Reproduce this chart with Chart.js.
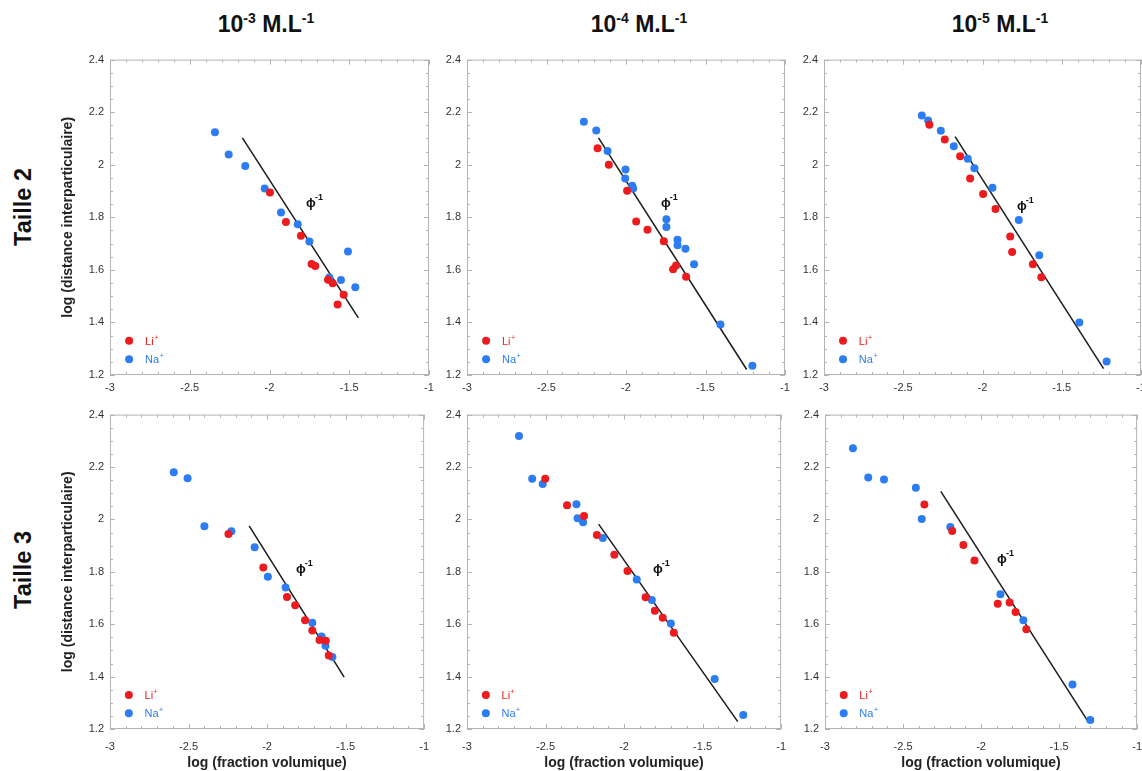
<!DOCTYPE html>
<html>
<head>
<meta charset="utf-8">
<script src="https://cdn.jsdelivr.net/npm/chart.js@4.4.0/dist/chart.umd.min.js"></script>
<style>
html, body { margin: 0; padding: 0; background: #fff; overflow: hidden; width: 1142px; height: 771px; }
body { position: relative; font-family: "Liberation Sans", Arial, sans-serif; }
.panel { position: absolute; }
.coltitle { position: absolute; top: 11px; font-weight: bold; font-size: 23px; line-height: 1; color: #111; transform: translateX(-50%); white-space: nowrap; }
.coltitle sup { font-size: 14px; vertical-align: 9px; }
.rowtitle { position: absolute; font-weight: bold; font-size: 23.5px; line-height: 1; color: #111; transform: translate(-50%, -50%) rotate(-90deg); white-space: nowrap; }
</style>
</head>
<body>
<div class="coltitle" style="left:266px">10<sup>-3</sup> M.L<sup>-1</sup></div>
<div class="coltitle" style="left:639px">10<sup>-4</sup> M.L<sup>-1</sup></div>
<div class="coltitle" style="left:1000px">10<sup>-5</sup> M.L<sup>-1</sup></div>
<div class="rowtitle" style="left:24px; top:207px">Taille 2</div>
<div class="rowtitle" style="left:24px; top:570px">Taille 3</div>

<script>
// tick labels
const xTicks = [-3, -2.5, -2, -1.5, -1];
const yTicks = [1.2, 1.4, 1.6, 1.8, 2, 2.2, 2.4];

// Taille 2 - 10^-3
const liT2m3 = [[-1.997,1.894],[-1.897,1.782],[-1.803,1.730],[-1.736,1.622],[-1.713,1.615],[-1.633,1.562],[-1.604,1.549],[-1.535,1.505],[-1.573,1.468]];
const naT2m3 = [[-2.342,2.124],[-2.256,2.039],[-2.152,1.995],[-2.030,1.910],[-1.928,1.818],[-1.823,1.774],[-1.750,1.708],[-1.508,1.670],[-1.625,1.571],[-1.552,1.561],[-1.462,1.534]];
const fitT2m3 = [[-2.170,2.102],[-1.443,1.417]];

// Taille 2 - 10^-4
const liT2m4 = [[-2.179,2.063],[-2.108,2.000],[-1.993,1.901],[-1.936,1.784],[-1.865,1.753],[-1.762,1.709],[-1.704,1.602],[-1.685,1.617],[-1.622,1.574]];
const naT2m4 = [[-2.265,2.164],[-2.187,2.130],[-2.116,2.052],[-2.003,1.982],[-2.005,1.948],[-1.961,1.920],[-1.955,1.910],[-1.746,1.793],[-1.746,1.763],[-1.676,1.715],[-1.676,1.694],[-1.626,1.680],[-1.572,1.621],[-1.406,1.392],[-1.205,1.235]];
const fitT2m4 = [[-2.173,2.102],[-1.241,1.221]];

// Taille 2 - 10^-5
const liT2m5 = [[-2.335,2.152],[-2.238,2.096],[-2.141,2.032],[-2.078,1.948],[-1.996,1.889],[-1.918,1.832],[-1.825,1.727],[-1.813,1.668],[-1.682,1.621],[-1.629,1.572]];
const naT2m5 = [[-2.383,2.187],[-2.343,2.168],[-2.263,2.129],[-2.181,2.070],[-2.093,2.023],[-2.051,1.987],[-1.937,1.912],[-1.771,1.790],[-1.642,1.656],[-1.389,1.400],[-1.217,1.251]];
const fitT2m5 = [[-2.173,2.107],[-1.236,1.224]];

// Taille 3 - 10^-3
const liT3m3 = [[-2.246,1.944],[-2.024,1.816],[-1.873,1.704],[-1.821,1.672],[-1.758,1.615],[-1.712,1.576],[-1.666,1.540],[-1.626,1.537],[-1.607,1.481]];
const naT3m3 = [[-2.594,2.180],[-2.506,2.157],[-2.399,1.974],[-2.227,1.955],[-2.079,1.894],[-1.995,1.781],[-1.882,1.740],[-1.712,1.606],[-1.653,1.553],[-1.628,1.518],[-1.584,1.475]];
const fitT3m3 = [[-2.114,1.975],[-1.509,1.398]];

// Taille 3 - 10^-4
const liT3m4 = [[-2.502,2.155],[-2.363,2.054],[-2.255,2.013],[-2.173,1.940],[-2.062,1.865],[-1.978,1.803],[-1.863,1.703],[-1.804,1.651],[-1.754,1.625],[-1.683,1.567]];
const naT3m4 = [[-2.669,2.318],[-2.585,2.155],[-2.518,2.135],[-2.303,2.058],[-2.296,2.004],[-2.261,1.989],[-2.135,1.929],[-1.919,1.771],[-1.823,1.692],[-1.702,1.603],[-1.423,1.391],[-1.241,1.253]];
const fitT3m4 = [[-2.162,1.982],[-1.276,1.228]];

// Taille 3 - 10^-5
const liT3m5 = [[-2.363,2.057],[-2.185,1.956],[-2.113,1.902],[-2.042,1.843],[-1.893,1.678],[-1.817,1.683],[-1.779,1.647],[-1.710,1.581]];
const naT3m5 = [[-2.821,2.272],[-2.723,2.160],[-2.622,2.152],[-2.418,2.121],[-2.380,2.002],[-2.197,1.971],[-1.876,1.714],[-1.729,1.615],[-1.414,1.370],[-1.300,1.234]];
const fitT3m5 = [[-2.258,2.107],[-1.317,1.231]];

const RED = "#ec1c1e";
const BLUE = "#2c7cf2";
const FONT = "'Liberation Sans', Arial, sans-serif";

const panels = [
  { li: liT2m3, na: naT2m3, fit: fitT2m3, phi: [-1.74, 1.853], left: 110, top: 57, w: 319, h: 318, yTitle: true, xTitle: false },
  { li: liT2m4, na: naT2m4, fit: fitT2m4, phi: [-1.75, 1.853], left: 467, top: 57, w: 318, h: 318, yTitle: false, xTitle: false },
  { li: liT2m5, na: naT2m5, fit: fitT2m5, phi: [-1.752, 1.84], left: 824, top: 57, w: 317, h: 318, yTitle: false, xTitle: false },
  { li: liT3m3, na: naT3m3, fit: fitT3m3, phi: [-1.785, 1.809], left: 110, top: 412, w: 318, h: 317, yTitle: true, xTitle: true },
  { li: liT3m4, na: naT3m4, fit: fitT3m4, phi: [-1.785, 1.809], left: 467, top: 412, w: 318, h: 317, yTitle: false, xTitle: true },
  { li: liT3m5, na: naT3m5, fit: fitT3m5, phi: [-1.866, 1.846], left: 825, top: 412, w: 316, h: 317, yTitle: false, xTitle: true },
];

const toXY = arr => arr.map(([x, y]) => ({ x, y }));

// frame, inner ticks, legend and phi label
const decor = {
  id: "decor",
  beforeDatasetsDraw(chart) {
    const { ctx, chartArea: a, scales: { x, y } } = chart;
    ctx.save();
    ctx.strokeStyle = "#b4b4b4";
    ctx.lineWidth = 1;
    ctx.strokeRect(a.left + 0.5, a.top + 0.5, a.right - a.left - 1, a.bottom - a.top - 1);
    ctx.beginPath();
    for (let i = 0; i <= 20; i++) {
      const px = Math.round(x.getPixelForValue(-3 + i * 0.1)) + 0.5;
      const len = i % 5 === 0 ? 5 : 3;
      ctx.moveTo(px, a.bottom); ctx.lineTo(px, a.bottom - len);
      ctx.moveTo(px, a.top); ctx.lineTo(px, a.top + len);
    }
    for (let i = 0; i <= 24; i++) {
      const py = Math.round(y.getPixelForValue(1.2 + i * 0.05)) + 0.5;
      const len = i % 4 === 0 ? 5 : 3;
      ctx.moveTo(a.left, py); ctx.lineTo(a.left + len, py);
      ctx.moveTo(a.right, py); ctx.lineTo(a.right - len, py);
    }
    ctx.stroke();
    ctx.restore();
  },
  afterDraw(chart) {
    const { ctx, scales: { x, y } } = chart;
    const p = chart.options.plugins.decor;
    ctx.save();
    // legend
    [["Li", RED, 1.33], ["Na", BLUE, 1.26]].forEach(([t, c, v]) => {
      const px = x.getPixelForValue(-2.88), py = y.getPixelForValue(v);
      ctx.fillStyle = c;
      ctx.beginPath(); ctx.arc(px, py, 4, 0, Math.PI * 2); ctx.fill();
      const tx = x.getPixelForValue(-2.78);
      ctx.font = "11px " + FONT;
      ctx.textBaseline = "middle";
      ctx.fillText(t, tx, py + 1);
      const tw = ctx.measureText(t).width;
      ctx.font = "7px " + FONT;
      ctx.fillText("+", tx + tw + 0.5, py - 3);
    });
    // phi label
    const fx = x.getPixelForValue(p.phi[0]), fy = y.getPixelForValue(p.phi[1]);
    ctx.fillStyle = "#111";
    ctx.font = "bold 13px " + FONT;
    ctx.textAlign = "center";
    ctx.textBaseline = "middle";
    ctx.fillText("\u03d5", fx, fy);
    ctx.font = "bold 9px " + FONT;
    ctx.textAlign = "left";
    ctx.fillText("-1", fx + 4, fy - 6);
    ctx.restore();
  }
};

panels.forEach(p => {
  const axisW = p.yTitle ? 55 : 40;
  const axisH = p.xTitle ? 45 : 25;
  const padTop = 10, padRight = 12;
  const W = axisW + p.w + padRight, H = padTop + p.h + axisH;
  const div = document.createElement("div");
  div.className = "panel";
  div.style.left = (p.left - axisW) + "px";
  div.style.top = (p.top - padTop) + "px";
  div.style.width = W + "px";
  div.style.height = H + "px";
  const canvas = document.createElement("canvas");
  canvas.width = W; canvas.height = H;
  canvas.style.width = W + "px"; canvas.style.height = H + "px";
  div.appendChild(canvas);
  document.body.appendChild(div);

  new Chart(canvas, {
    type: "scatter",
    data: {
      datasets: [
        { label: "Li+", data: toXY(p.li), backgroundColor: RED, borderWidth: 0, pointRadius: 4 },
        { label: "Na+", data: toXY(p.na), backgroundColor: BLUE, borderWidth: 0, pointRadius: 4 },
        { label: "phi-1", data: toXY(p.fit), showLine: true, borderColor: "#1a1a1a", borderWidth: 1.5, pointRadius: 0 }
      ]
    },
    options: {
      responsive: false,
      animation: false,
      events: [],
      layout: { padding: { top: padTop, right: padRight, left: 0, bottom: 0 } },
      plugins: {
        legend: { display: false },
        tooltip: { enabled: false },
        decor: { phi: p.phi }
      },
      scales: {
        x: {
          type: "linear", min: -3, max: -1,
          afterBuildTicks: s => { s.ticks = xTicks.map(v => ({ value: v })); },
          afterFit: s => { s.height = axisH; },
          grid: { display: false, drawTicks: false },
          border: { display: false },
          ticks: { padding: p.xTitle ? 11 : 6, color: "#333", font: { family: FONT, size: 11 }, callback: v => String(v) },
          title: { display: p.xTitle, text: "log (fraction volumique)", color: "#222", font: { family: FONT, size: 14, weight: "bold" }, padding: { top: 0, bottom: 2 } }
        },
        y: {
          type: "linear", min: 1.2, max: 2.4,
          afterBuildTicks: s => { s.ticks = yTicks.map(v => ({ value: v })); },
          afterFit: s => { s.width = axisW; },
          grid: { display: false, drawTicks: false },
          border: { display: false },
          ticks: { padding: 6, color: "#333", font: { family: FONT, size: 11 }, callback: v => String(v) },
          title: { display: p.yTitle, text: "log (distance interparticulaire)", color: "#222", font: { family: FONT, size: 14, weight: "bold" }, padding: { top: 5, bottom: 0 } }
        }
      }
    },
    plugins: [decor]
  });
});
</script>
</body>
</html>
